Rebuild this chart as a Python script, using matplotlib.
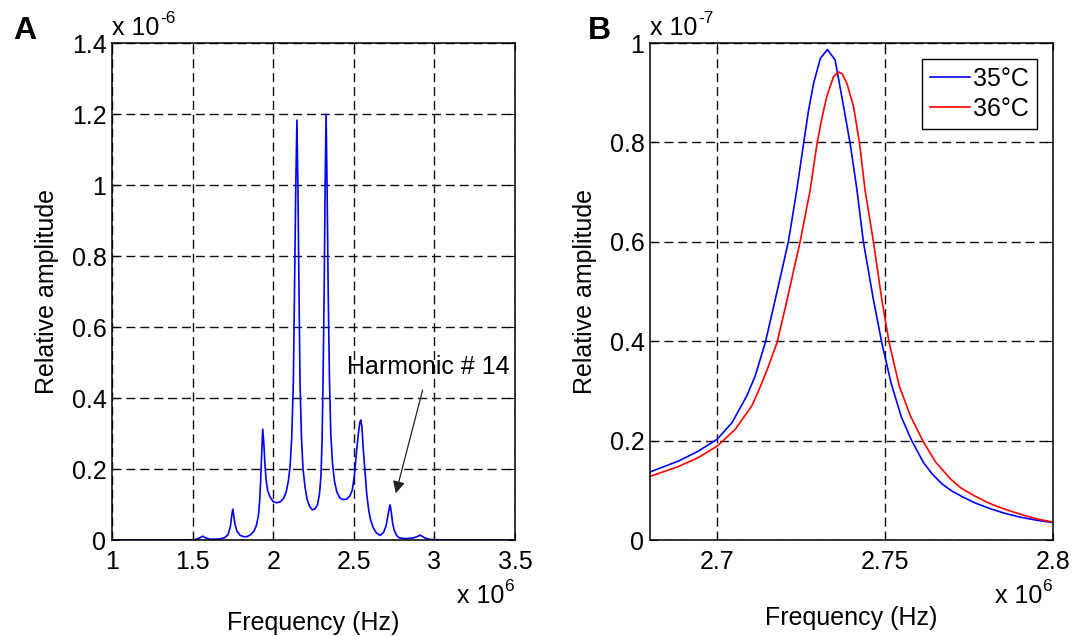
import matplotlib
matplotlib.use('Agg')
import matplotlib.pyplot as plt
from matplotlib.ticker import FuncFormatter

plt.rcParams['font.family'] = ['Liberation Sans', 'DejaVu Sans']
plt.rcParams['mathtext.fontset'] = 'custom'
plt.rcParams['mathtext.rm'] = 'Liberation Sans'
plt.rcParams['mathtext.it'] = 'Liberation Sans:italic'
plt.rcParams['mathtext.bf'] = 'Liberation Sans:bold'

# panel A: spectrum (freq in 1e6 Hz, amplitude in 1e-6)
freq_a = [1.0, 1.42, 1.515, 1.545, 1.5625, 1.58, 1.61, 1.67, 1.70, 1.72,
          1.735, 1.743, 1.749, 1.755, 1.763, 1.775, 1.795, 1.82, 1.84, 1.86,
          1.88, 1.895, 1.908, 1.916, 1.922, 1.929, 1.935, 1.942, 1.949, 1.956,
          1.965, 1.98, 2.0, 2.022, 2.045, 2.065, 2.08, 2.094, 2.105, 2.115,
          2.125, 2.132, 2.14, 2.147, 2.153, 2.16, 2.166, 2.175, 2.185, 2.197,
          2.21, 2.225, 2.243, 2.26, 2.275, 2.287, 2.296, 2.303, 2.309, 2.316,
          2.322, 2.328, 2.334, 2.341, 2.349, 2.357, 2.367, 2.38, 2.395, 2.414,
          2.435, 2.455, 2.475, 2.49, 2.503, 2.515, 2.528, 2.537, 2.543, 2.55,
          2.558, 2.569, 2.58, 2.592, 2.605, 2.62, 2.64, 2.663, 2.685, 2.70,
          2.712, 2.72, 2.725, 2.732, 2.74, 2.75, 2.765, 2.782, 2.82, 2.87,
          2.895, 2.911, 2.925, 2.945, 2.97, 3.0, 3.1, 3.5]
amp_a = [0.0, 0.0, 0.001, 0.006, 0.011, 0.006, 0.002, 0.003, 0.007, 0.015,
         0.04, 0.07, 0.087, 0.07, 0.044, 0.025, 0.013, 0.009, 0.01, 0.015,
         0.025, 0.04, 0.068, 0.11, 0.167, 0.25, 0.312, 0.27, 0.21, 0.17,
         0.14, 0.122, 0.108, 0.105, 0.108, 0.118, 0.135, 0.166, 0.21, 0.29,
         0.449, 0.7, 1.0, 1.183, 1.0, 0.7, 0.449, 0.29, 0.2, 0.15,
         0.115, 0.095, 0.085, 0.088, 0.1, 0.13, 0.18, 0.28, 0.449, 0.7,
         1.0, 1.2, 1.0, 0.7, 0.449, 0.3, 0.22, 0.165, 0.135, 0.118,
         0.114, 0.115, 0.124, 0.14, 0.18, 0.24, 0.3, 0.33, 0.338, 0.32,
         0.26, 0.195, 0.13, 0.085, 0.055, 0.035, 0.02, 0.013, 0.022, 0.04,
         0.07, 0.09, 0.099, 0.08, 0.05, 0.028, 0.013, 0.006, 0.004, 0.006,
         0.01, 0.014, 0.01, 0.005, 0.002, 0.001, 0.0, 0.0]

# panel B: harmonic 14 zoom (freq in 1e6 Hz, amplitude in 1e-7)
freq_35 = [2.68, 2.6885, 2.6944, 2.70, 2.7044, 2.7088, 2.7113, 2.7143, 2.7168,
           2.719, 2.7212, 2.7237, 2.7257, 2.7272, 2.7287, 2.7307, 2.7328,
           2.7351, 2.7371, 2.7396, 2.7416, 2.7435, 2.7465, 2.749, 2.7518,
           2.7548, 2.7579, 2.7614, 2.764, 2.7669, 2.77, 2.7733, 2.777, 2.7813,
           2.7855, 2.7902, 2.795, 2.80]
amp_35 = [0.137, 0.159, 0.179, 0.203, 0.236, 0.29, 0.33, 0.397, 0.47,
          0.535, 0.601, 0.705, 0.797, 0.865, 0.919, 0.969, 0.987,
          0.966, 0.892, 0.797, 0.705, 0.601, 0.484, 0.397, 0.315,
          0.248, 0.20, 0.156, 0.133, 0.113, 0.098, 0.086, 0.074, 0.063,
          0.054, 0.046, 0.04, 0.035]
freq_36 = [2.68, 2.6885, 2.6944, 2.70, 2.7054, 2.7103, 2.7123, 2.715, 2.7178,
           2.7207, 2.7247, 2.7277, 2.7297, 2.7312, 2.7326, 2.7346, 2.7361,
           2.7372, 2.7386, 2.7406, 2.7424, 2.744, 2.7465, 2.749, 2.7512,
           2.7542, 2.7575, 2.7612, 2.7649, 2.7693, 2.7725, 2.7763, 2.78,
           2.7832, 2.787, 2.7912, 2.7955, 2.80]
amp_36 = [0.128, 0.148, 0.166, 0.189, 0.223, 0.27, 0.30, 0.345, 0.397,
          0.48, 0.601, 0.705, 0.797, 0.85, 0.892, 0.932, 0.942,
          0.938, 0.919, 0.872, 0.797, 0.705, 0.601, 0.484, 0.397,
          0.31, 0.25, 0.20, 0.158, 0.124, 0.105, 0.09, 0.077,
          0.068, 0.059, 0.05, 0.042, 0.036]

xticks_a = [1, 1.5, 2, 2.5, 3, 3.5]
yticks_a = [0, 0.2, 0.4, 0.6, 0.8, 1.0, 1.2, 1.4]
xticks_b = [2.7, 2.75, 2.8]
yticks_b = [0, 0.2, 0.4, 0.6, 0.8, 1.0]

FS = 18
fmt = FuncFormatter(lambda v, p: '%g' % v)

fig = plt.figure(figsize=(10.75, 6.36), dpi=100)
axA = fig.add_axes([0.1042, 0.1509, 0.3749, 0.7814])
axB = fig.add_axes([0.6047, 0.1509, 0.3749, 0.7814])


def style(ax):
    ax.grid(True, color='#111111', linestyle=(0, (6.5, 3.5)), linewidth=1.0)
    ax.set_axisbelow(True)
    ax.tick_params(direction='in', top=True, right=True, length=5, width=0.8,
                   labelsize=FS, pad=4)
    ax.tick_params(axis='x', pad=7)
    ax.xaxis.set_major_formatter(fmt)
    ax.yaxis.set_major_formatter(fmt)
    for s in ax.spines.values():
        s.set_linewidth(1.1)
        s.set_color('black')


def exponent(ax, base_xy, sup, ha='left'):
    # "x 10" plus a raised exponent, matlab style
    ax.text(base_xy[0], base_xy[1], 'x 10', transform=ax.transAxes,
            fontsize=FS, ha='left', va='baseline')
    ax.annotate(sup, xy=base_xy, xycoords='axes fraction',
                xytext=(34.5, 8.5), textcoords='offset points',
                fontsize=12.5, ha='left', va='baseline')


# A
axA.plot(freq_a, amp_a, color='#0000ff', lw=1.2)
axA.set_xlim(1, 3.5)
axA.set_ylim(0, 1.4)
axA.set_xticks(xticks_a)
axA.set_yticks(yticks_a)
style(axA)
axA.set_xlabel('Frequency (Hz)', fontsize=FS, labelpad=27)
axA.set_ylabel('Relative amplitude', fontsize=FS, labelpad=9)
exponent(axA, (0, 1.016), '-6')
exponent(axA, (0.855, -0.127), '6')
axA.text(2.458, 0.487, 'Harmonic # 14', fontsize=FS, ha='left', va='center')
axA.annotate('', xy=(2.756, 0.124), xytext=(2.931, 0.43),
             arrowprops=dict(arrowstyle='-|>', color='#222222', lw=0.9,
                             mutation_scale=18))

# B
axB.plot(freq_35, amp_35, color='#0000ff', lw=1.2, label='35°C')
axB.plot(freq_36, amp_36, color='#ff0000', lw=1.2, label='36°C')
axB.set_xlim(2.68, 2.8)
axB.set_ylim(0, 1.0)
axB.set_xticks(xticks_b)
axB.set_yticks(yticks_b)
style(axB)
axB.set_xlabel('Frequency (Hz)', fontsize=FS, labelpad=23)
axB.set_ylabel('Relative amplitude', fontsize=FS, labelpad=9)
exponent(axB, (0, 1.016), '-7')
exponent(axB, (0.855, -0.127), '6')
leg = axB.legend(loc='upper right', fontsize=FS, fancybox=False, framealpha=1,
                 edgecolor='black', borderpad=0.3, labelspacing=0.25,
                 handlelength=1.6, handletextpad=0.15, borderaxespad=0.65)
leg.get_frame().set_linewidth(1.0)

fig.text(0.012, 0.975, 'A', fontsize=23, fontweight='bold', ha='left', va='top')
fig.text(0.547, 0.975, 'B', fontsize=23, fontweight='bold', ha='left', va='top')

fig.savefig('out.png', dpi=100)
